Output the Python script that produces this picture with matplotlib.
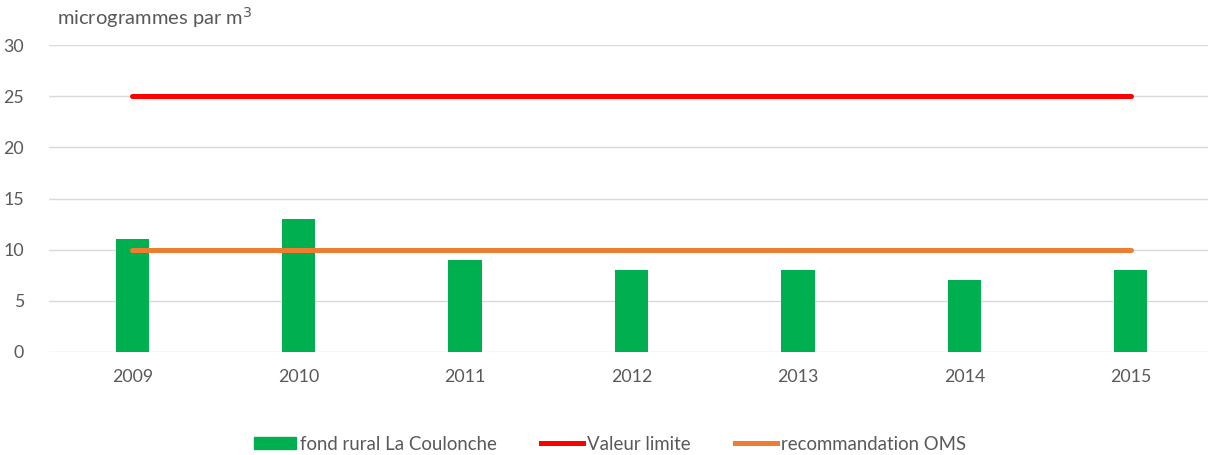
import numpy as np
import matplotlib.pyplot as plt
from matplotlib.patches import Patch
from matplotlib.lines import Line2D

plt.rcParams['font.family'] = ['Lato', 'DejaVu Sans']

years = ['2009', '2010', '2011', '2012', '2013', '2014', '2015']
fond_rural = [11, 13, 9, 8, 8, 7, 8]
valeur_limite = [25, 25, 25, 25, 25, 25, 25]
recommandation_oms = [10, 10, 10, 10, 10, 10, 10]

green = '#00b050'
red = '#ff0000'
orange = '#ed7d31'
grey_txt = '#595959'

W, H = 1208, 455
fig = plt.figure(figsize=(W / 100, H / 100), dpi=100)
# axis runs past the right edge, like the cropped original
ax = fig.add_axes([49 / W, (H - 352) / H, (1214 - 49) / W, 307 / H])

x = np.arange(len(years))
ax.bar(x, fond_rural, width=0.2, color=green, zorder=2)
ax.plot(x, valeur_limite, color=red, lw=3.6, solid_capstyle='round', zorder=3)
ax.plot(x, recommandation_oms, color=orange, lw=3.6, solid_capstyle='round', zorder=3)

ax.set_xlim(-0.5, len(years) - 0.5)
ax.set_ylim(0, 30)
ax.set_yticks(range(0, 31, 5))
ax.set_xticks(x)
ax.set_xticklabels(years)
ax.grid(axis='y', color='#d9d9d9', lw=1, zorder=0)
ax.set_axisbelow(True)
for s in ax.spines.values():
    s.set_visible(False)
ax.tick_params(length=0, colors=grey_txt, labelsize=12.8)
ax.tick_params(axis='y', pad=18)
ax.tick_params(axis='x', pad=12)

fig.text(57 / W, 1 - 18 / H, 'microgrammes par m$^3$', fontsize=14.5,
         color=grey_txt, va='center', ha='left')

handles = [Patch(color=green), Line2D([], [], color=red, lw=3.6),
           Line2D([], [], color=orange, lw=3.6)]
labels = ['fond rural La Coulonche', 'Valeur limite', 'recommandation OMS']
leg = fig.legend(handles, labels, loc='center', bbox_to_anchor=(610 / W, 1 - 444 / H),
                 ncol=3, frameon=False, fontsize=13.4, handlelength=2.25,
                 handleheight=0.65, handletextpad=0.25, columnspacing=2.35)
for t in leg.get_texts():
    t.set_color(grey_txt)

fig.savefig('out.png', dpi=100)
